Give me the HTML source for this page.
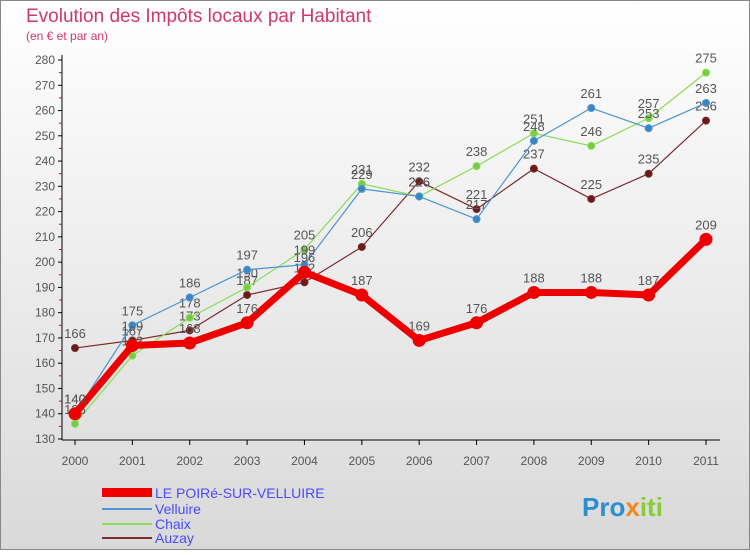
<!DOCTYPE html>
<html><head><meta charset="utf-8"><style>
body{margin:0;width:750px;height:550px;overflow:hidden;font-family:"Liberation Sans",sans-serif}
</style></head><body>
<svg width="750" height="550" xmlns="http://www.w3.org/2000/svg" id="chart">
<defs><linearGradient id="bg" x1="0" y1="0" x2="0" y2="1"><stop offset="0" stop-color="#ffffff"/><stop offset="1" stop-color="#d9d9d9"/></linearGradient></defs>
<rect x="0.5" y="0.5" width="749" height="549" fill="url(#bg)" stroke="#888"/>
<text x="26" y="22" font-size="19" fill="#d0386a">Evolution des Impôts locaux par Habitant</text>
<text x="26" y="40" font-size="12" fill="#d0386a">(en € et par an)</text>
<g id="axes"></g><g id="series"></g>
<g>
<rect x="102" y="488" width="50" height="9" fill="#ee0000"/>
<text x="155" y="498" font-size="14" fill="#4a4aff">LE POIRé-SUR-VELLUIRE</text>
<line x1="102" y1="509" x2="152" y2="509" stroke="#4b95d0" stroke-width="2"/>
<text x="155" y="514" font-size="14" fill="#4a4aff">Velluire</text>
<line x1="102" y1="524" x2="152" y2="524" stroke="#88dd55" stroke-width="2"/>
<text x="155" y="529" font-size="14" fill="#4a4aff">Chaix</text>
<line x1="102" y1="538" x2="152" y2="538" stroke="#7a2a2a" stroke-width="2"/>
<text x="155" y="543" font-size="14" fill="#4a4aff">Auzay</text>
</g>
<text x="582" y="516" font-size="26" font-weight="bold" fill="#2a8fd0">Pro<tspan fill="#f08a1a">x</tspan><tspan fill="#88cc33">iti</tspan></text>
</svg>
<script>
const years=["2000","2001","2002","2003","2004","2005","2006","2007","2008","2009","2010","2011"];
const poire=[140,167,168,176,196,187,169,176,188,188,187,209];
const velluire=[140,175,186,197,199,229,226,217,248,261,253,263];
const chaix=[136,163,178,190,205,231,226,238,251,246,257,275];
const auzay=[166,169,173,187,192,206,232,221,237,225,235,256];
const yTicks=[130,140,150,160,170,180,190,200,210,220,230,240,250,260,270,280];
const NS="http://www.w3.org/2000/svg";
const x=i=>75+i*(706-75)/11;
const y=v=>439-(v-130)*(439-60)/150;
function mk(t,a,p){const e=document.createElementNS(NS,t);for(const k in a)e.setAttribute(k,a[k]);p.appendChild(e);return e;}
const ax=document.getElementById('axes');
const yl=mk('line',{x1:62,y1:55,x2:62,y2:440,stroke:'#000'},ax);


const xl=mk('line',{x1:62,y1:440,x2:720,y2:440,stroke:'#000'},ax);


yTicks.forEach(v=>{
 mk('line',{x1:58,y1:y(v),x2:62,y2:y(v),stroke:'#000'},ax);
 if(v<280)mk('line',{x1:59,y1:y(v+5),x2:62,y2:y(v+5),stroke:'#e00'},ax);
 const t=mk('text',{x:55,y:y(v)+4,'font-size':12,fill:'#555','text-anchor':'end'},ax);t.textContent=v;
 
 
});
years.forEach((yr,i)=>{
 mk('line',{x1:x(i),y1:440,x2:x(i),y2:445,stroke:'#000'},ax);
 const t=mk('text',{x:x(i),y:465,'font-size':12,fill:'#555','text-anchor':'middle'},ax);t.textContent=yr;
 
 
});
const sg=document.getElementById('series');
function draw(name,data,color,w,r,dot){
 const g=mk('g',{},sg);
 
 
 const pl=mk('polyline',{points:data.map((v,i)=>x(i)+','+y(v)).join(' '),fill:'none',stroke:color,'stroke-width':w,'stroke-linejoin':'round'},g);
 
 
 data.forEach((v,i)=>{
  const c=mk('circle',{cx:x(i),cy:y(v),r:r,fill:dot,stroke:color,'stroke-width':1},g);
  
  
  const t=mk('text',{x:x(i),y:y(v)-10,'font-size':13,fill:'#555','text-anchor':'middle'},g);t.textContent=v;
  
  
 });
}
draw('auzay',auzay,'#7a2a2a',1.2,3.5,'#6a1a1a');
draw('chaix',chaix,'#88dd55',1.2,3.5,'#77cc44');
draw('velluire',velluire,'#4b95d0',1.2,3.5,'#3a85c5');
draw('poire',poire,'#ee0000',7,6,'#ee0000');
</script>
</body></html>
